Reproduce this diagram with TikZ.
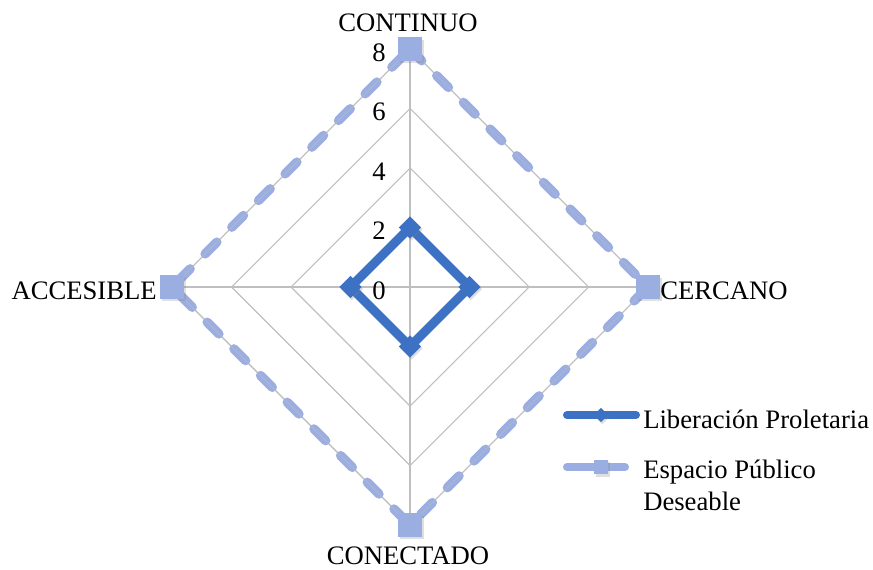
\documentclass[tikz,border=0pt]{standalone}
\usepackage{fontspec}
\setmainfont{Liberation Serif}
\usepackage{tikz}
\usetikzlibrary{positioning,shadows,shapes.geometric}
\definecolor{proletblue}{HTML}{3C71C4}
\definecolor{deseablue}{HTML}{9BAEE2}
\definecolor{gridgray}{HTML}{BFBFBF}
\tikzset{
  gridline/.style={draw=gridgray, line width=0.8pt},
  proletline/.style={draw=proletblue, line width=6.75pt, line join=round, line cap=round},
  desealine/.style={draw=deseablue, line width=7pt, line cap=round, dash pattern=on 12.5pt off 15.8pt},
  proletmark/.style={diamond, fill=proletblue, minimum size=17pt, inner sep=0pt,
    drop shadow={opacity=0.25, shadow xshift=1pt, shadow yshift=-1.5pt}},
  deseamark/.style={rectangle, fill=deseablue, minimum size=17.5pt, inner sep=0pt,
    drop shadow={opacity=0.25, shadow xshift=1.5pt, shadow yshift=-2pt}},
  axislabel/.style={font=\fontsize{20}{24}\selectfont, inner sep=0pt},
  ticklabel/.style={font=\fontsize{20}{24}\selectfont, inner sep=0pt, anchor=base east}
}
\begin{document}
\begin{tikzpicture}[x=0.75pt, y=0.75pt]
  \useasboundingbox (0,0) rectangle (873,569);
  \begin{scope}[shift={(410,282)}]
    % grid
    \foreach \r in {2,4,6,8}
      \draw[gridline] (90:\r*29.75) -- (0:\r*29.75) -- (270:\r*29.75) -- (180:\r*29.75) -- cycle;
    \foreach \a in {0,90,180,270}
      \draw[gridline] (0,0) -- (\a:238);
    \foreach \v in {0,2,4,6,8}
      \node[ticklabel] (tick\v) at (-24,\v*29.75-12) {\v};
    % Espacio Publico Deseable
    \coordinate (cont) at (90:238);
    \coordinate (cerc) at (0:238);
    \coordinate (conec) at (270:238);
    \coordinate (acce) at (180:238);
    \draw[desealine] (cont) -- (cerc) -- (conec) -- (acce) -- cycle;
    \draw[gridline, draw opacity=0.45] (cont) -- (cerc) -- (conec) -- (acce) -- cycle;
    % Liberacion Proletaria
    \coordinate (lpN) at (90:59.5);
    \coordinate (lpE) at (0:59.5);
    \coordinate (lpS) at (270:59.5);
    \coordinate (lpW) at (180:59.5);
    \draw[proletline] (lpN) -- (lpE) -- (lpS) -- (lpW) -- cycle;
    \foreach \p in {lpN,lpE,lpS,lpW}
      \node[proletmark] (m\p) at (\p) {};
    \foreach \p in {cont,cerc,conec,acce}
      \node[deseamark] (m\p) at (\p) {};
    % axis labels
    \node[axislabel, anchor=base] (lbcont) at (-2,255) {CONTINUO};
    \node[axislabel, anchor=base west] (lbcerc) at (250,-12) {CERCANO};
    \node[axislabel, anchor=base] (lbconec) at (-2,-277) {CONECTADO};
    \node[axislabel, anchor=base east] (lbacce) at (-253,-12) {ACCESIBLE};
  \end{scope}
  % legend
  \coordinate (lgpA) at (567,154);
  \coordinate (lgpB) at (636,154);
  \draw[proletline, line width=6pt] (lgpA) -- (lgpB);
  \node[proletmark, minimum size=11pt] (lgpM) at (601,154) {};
  \node[axislabel, anchor=base west] (lgpT) at (643,141) {Liberación Proletaria};
  \coordinate (lgdA) at (567,102);
  \coordinate (lgdB) at (625,102);
  \draw[desealine, line width=6pt, dash pattern={}] (lgdA) -- (lgdB);
  \node[deseamark, minimum size=11pt] (lgdM) at (601,102) {};
  \node[axislabel, anchor=base west] (lgdT) at (643,91) {Espacio Público};
  \node[axislabel, anchor=base west] (lgdT2) at (643,59) {Deseable};
\end{tikzpicture}
\end{document}
